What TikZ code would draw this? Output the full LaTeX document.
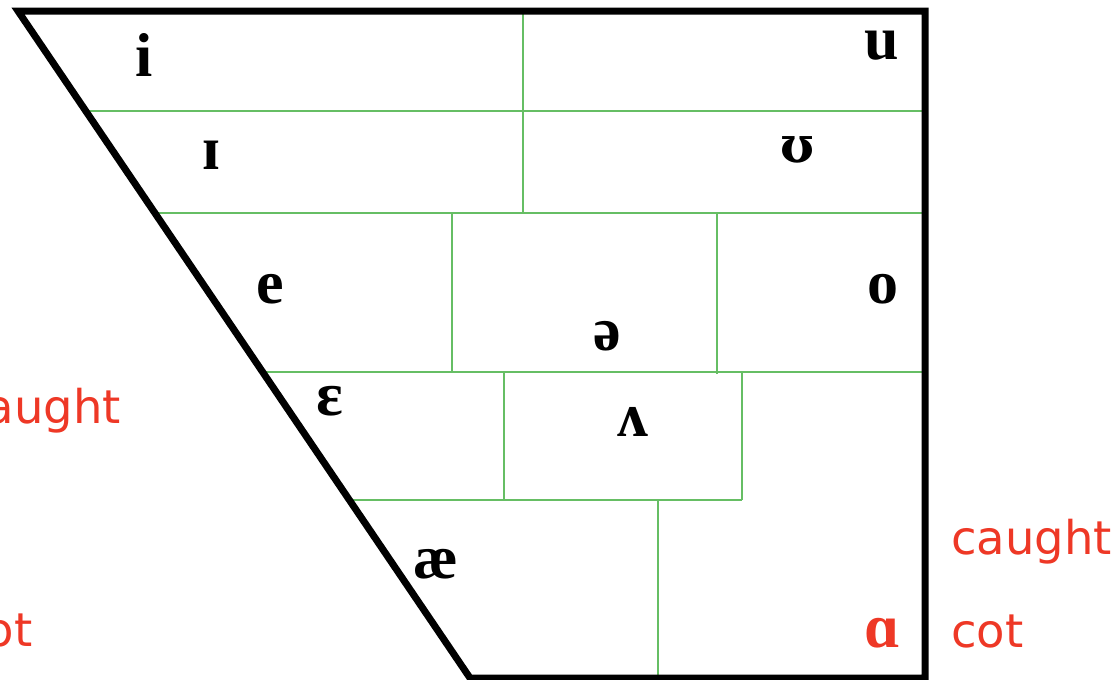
\documentclass[tikz,border=0pt]{standalone}
\usepackage{fontspec}
\newfontfamily\ipafont{Liberation Serif}
\newfontfamily\ipaalt{DejaVu Serif}
\newfontfamily\labfont{DejaVu Sans}
\definecolor{gridgreen}{RGB}{102,190,100}
\definecolor{labred}{RGB}{238,56,38}
\tikzset{
  frame/.style={line width=7pt, black, line join=miter},
  grid/.style={line width=2.2pt, gridgreen},
  vowel/.style={anchor=base, inner sep=0pt, font=\ipafont\bfseries\fontsize{62}{62}\selectfont},
  word/.style={anchor=base west, inner sep=0pt, text=labred, font=\labfont\fontsize{46.5}{46.5}\selectfont}
}
\begin{document}
\begin{tikzpicture}[x=1pt,y=-1pt]
\useasboundingbox (0,0) rectangle (1117,680);
% frame corners
\coordinate (TL) at (18,11);
\coordinate (TR) at (925,11);
\coordinate (BR) at (925,678);
\coordinate (BL) at (470,678);
% grid endpoints
\coordinate (h1l) at (86,111);  \coordinate (h1r) at (922,111);
\coordinate (h2l) at (155,213); \coordinate (h2r) at (927,213);
\coordinate (h3l) at (263,372); \coordinate (h3r) at (922,372);
\coordinate (h4l) at (349,500); \coordinate (h4r) at (742,500);
\draw[grid] (h1l) -- (h1r);
\draw[grid] (h2l) -- (h2r);
\draw[grid] (h3l) -- (h3r);
\draw[grid] (h4l) -- (h4r);
\coordinate (v1t) at (523,11);  \coordinate (v1b) at (523,213);
\coordinate (v2t) at (452,213); \coordinate (v2b) at (452,372);
\coordinate (v3t) at (717,213); \coordinate (v3b) at (717,374);
\coordinate (v4t) at (504,372); \coordinate (v4b) at (504,500);
\coordinate (v5t) at (742,372); \coordinate (v5b) at (742,500);
\coordinate (v6t) at (658,500); \coordinate (v6b) at (658,682);
\draw[grid] (v1t) -- (v1b);
\draw[grid] (v2t) -- (v2b);
\draw[grid] (v3t) -- (v3b);
\draw[grid] (v4t) -- (v4b);
\draw[grid] (v5t) -- (v5b);
\draw[grid] (v6t) -- (v6b);
\draw[frame] (BL) -- (TL) -- (TR) -- (BR) -- cycle;
% vowels
\node[vowel] (i) at (144,76) {i};
\node[vowel] (u) at (882,59) {u};
\node[vowel] (I) at (211,169) {ɪ};
\node[vowel, font=\ipaalt\bfseries\fontsize{50}{50}\selectfont] (U) at (797,162) {ʊ};
\node[vowel] (e) at (270,303) {e};
\node[vowel] (o) at (883,303) {o};
\node[vowel] (schwa) at (607,350) {ə};
\node[vowel] (eps) at (330,415) {ɛ};
\node[vowel] (wedge) at (633,436) {ʌ};
\node[vowel] (ae) at (436,578) {æ};
\node[vowel, text=labred] (alpha) at (882,647) {ɑ};
% words
\node[word] (caughtL) at (-40,423) {caught};
\node[word] (cotL) at (-40,646) {cot};
\node[word] (caughtR) at (951,554) {caught};
\node[word] (cotR) at (951,647) {cot};
\end{tikzpicture}
\end{document}
